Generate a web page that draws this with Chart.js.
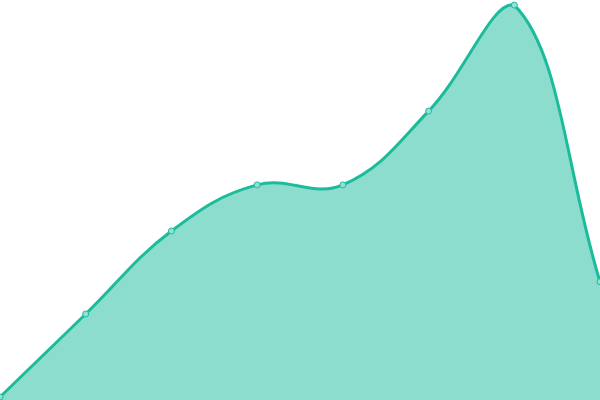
<!DOCTYPE html>
<html>
<head>
<meta charset="utf-8">
<script src="https://cdn.jsdelivr.net/npm/chart.js@4"></script>
<style>
  html, body { margin: 0; padding: 0; background: #fff; }
  #wrap { width: 600px; height: 400px; }
</style>
</head>
<body>
<div id="wrap"><canvas id="area-chart"></canvas></div>
<script>
var labels = ['1', '2', '3', '4', '5', '6', '7', '8'];
var values = [10, 28, 46, 56, 56, 72, 95, 35];

var ctx = document.getElementById('area-chart');

var areaChart = new Chart(ctx, {
    type: 'line',
    data: {
        labels: labels,
        datasets: [{
            data: values,
            fill: true,
            tension: 0.4,
            borderColor: '#1abc9c',
            borderWidth: 3,
            backgroundColor: 'rgba(26, 188, 156, 0.5)',
            pointRadius: 3,
            pointBorderWidth: 1,
            pointBorderColor: '#1abc9c',
            pointBackgroundColor: '#8ee3d2'
        }]
    },
    options: {
        responsive: true,
        maintainAspectRatio: false,
        animation: false,
        layout: { padding: 0, autoPadding: false },
        plugins: {
            legend: { display: false },
            tooltip: { enabled: false }
        },
        scales: {
            x: { display: false, offset: false },
            y: { display: false, min: 9.35, max: 96.1 }
        }
    }
});
</script>
</body>
</html>
